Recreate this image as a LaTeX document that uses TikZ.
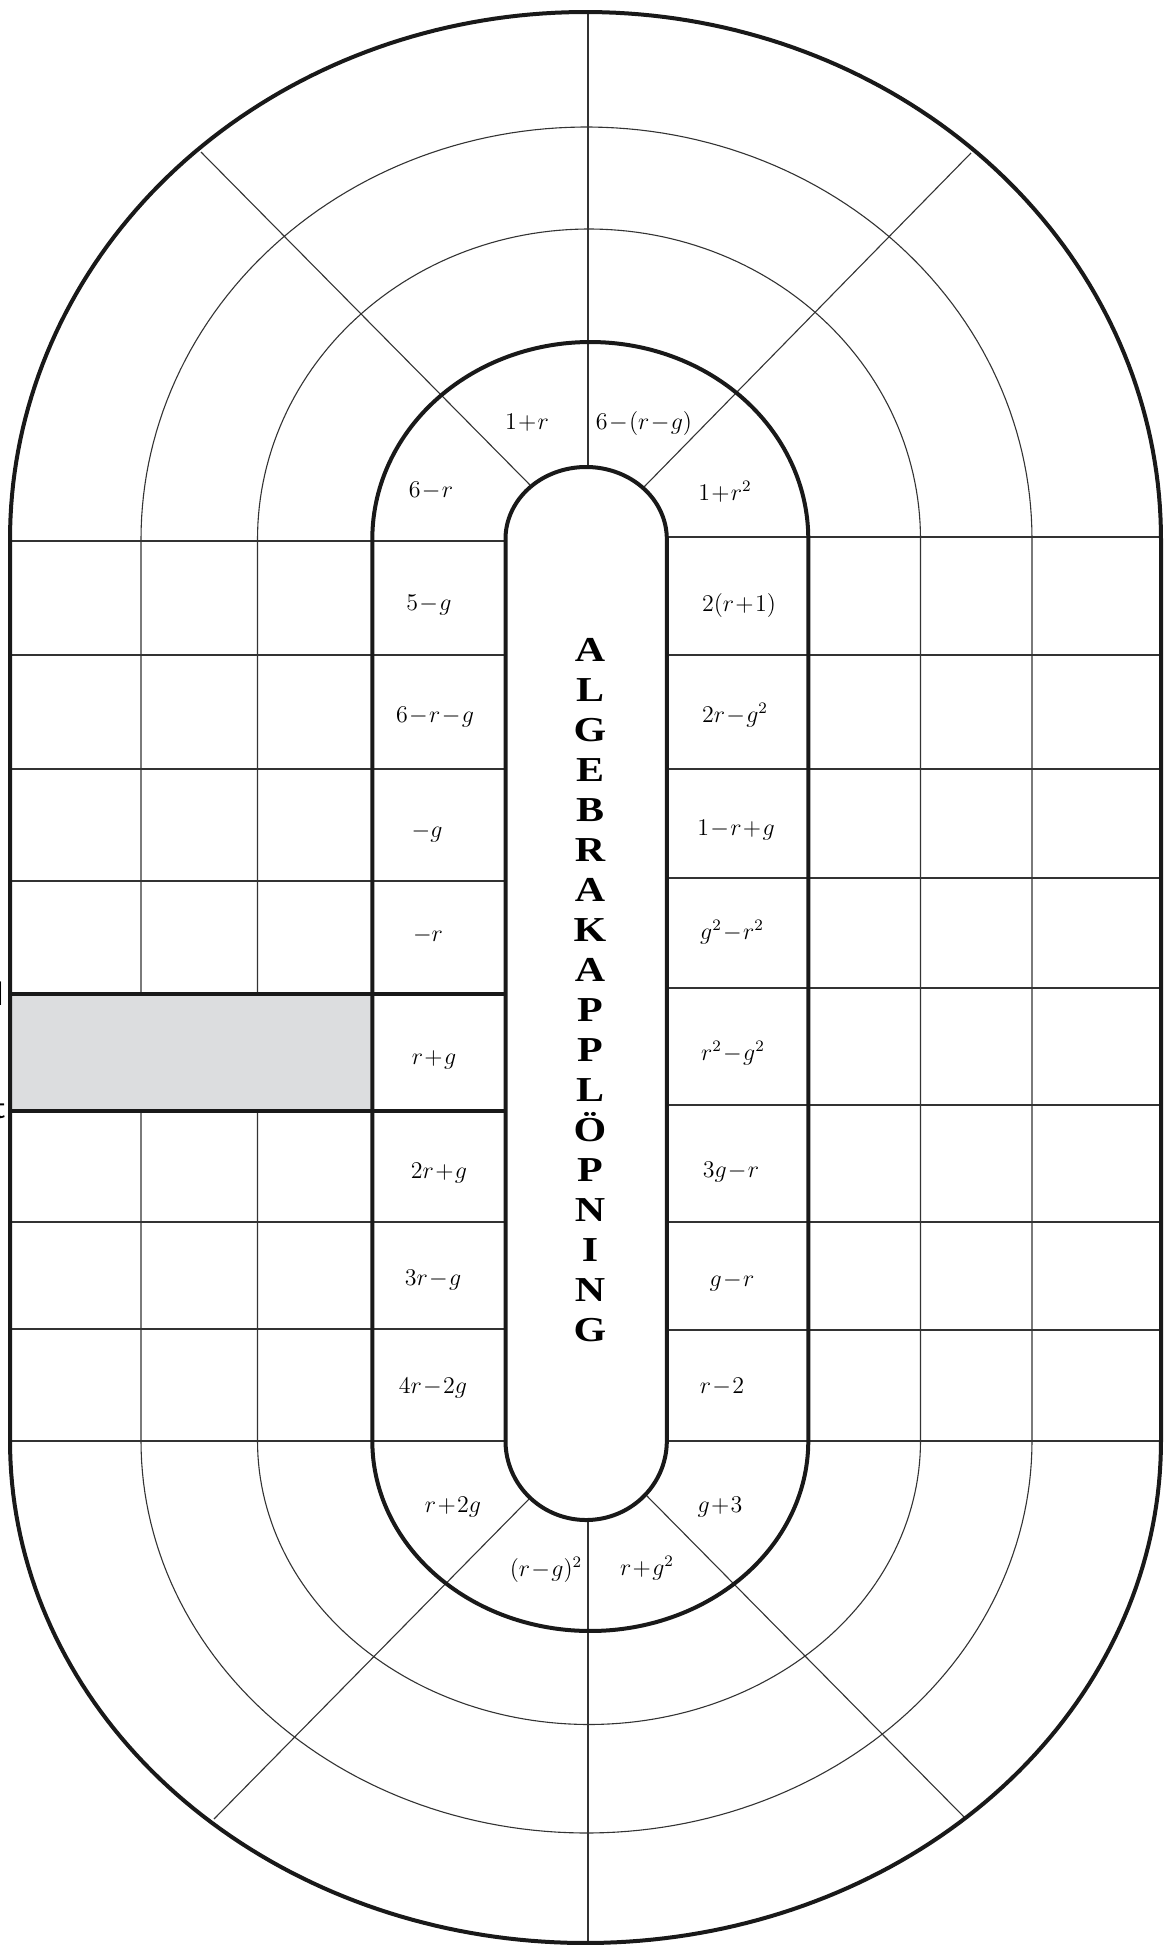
\documentclass[tikz,border=0pt]{standalone}
\usepackage{fontspec}
\newfontfamily\titlefont{Liberation Serif}
\newcommand\mexpr[1]{$\medmuskip=1mu\relax #1$}
\begin{document}
\begin{tikzpicture}[x=0.5pt,y=-0.5pt,
  thickline/.style={line width=2pt, draw=black!90},
  thinline/.style={line width=0.55pt, draw=black!80},
  lbl/.style={font=\fontsize{12}{14}\selectfont, inner sep=0pt},
  letter/.style={font=\titlefont\bfseries\fontsize{17.5}{20}\selectfont, xscale=1.2, inner sep=0pt, anchor=base},
  side/.style={font=\sffamily\fontsize{17}{20}\selectfont, anchor=base east, inner sep=0pt}]
\useasboundingbox (0,0) rectangle (1164,1953);
\clip (0,0) rectangle (1164,1953);

% ---- thin rings (stadium loops) ----
\draw[thinline] plot[domain=180:360,samples=120] ({586.5+445.5*cos(\x)},{539+412*sin(\x)})
  -- plot[domain=0:180,samples=120] ({586.5+445.5*cos(\x)},{1441+392*sin(\x)}) -- cycle;
\draw[thinline] plot[domain=180:360,samples=120] ({589+331.5*cos(\x)},{539+310*sin(\x)})
  -- plot[domain=0:180,samples=120] ({589+331.5*cos(\x)},{1441+283.5*sin(\x)}) -- cycle;

% ---- thin horizontal lines ----
\foreach \yy in {541,655,769,881,1222,1329,1441}
  \draw[thinline] (10,\yy) -- (505.5,\yy);
\foreach \yy in {537,655,769,878,988,1105,1222,1330,1441}
  \draw[thinline] (666.8,\yy) -- (1161,\yy);

% ---- centre spokes and diagonals ----
\draw[thinline] (588,467) -- (588,12);
\draw[thinline] (588,1520) -- (588,1943);
\draw[thinline] (530,485) -- (201,152);
\draw[thinline] (644,487) -- (971,153);
\draw[thinline] (529,1499) -- (214,1819);
\draw[thinline] (647,1496) -- (966,1819);

% ---- start box ----
\fill[fill={rgb,255:red,220;green,221;blue,223}] (10,993.5) rectangle (372.3,1111);

% ---- thick outlines ----
\draw[thickline] plot[domain=180:360,samples=150] ({585.5+575.5*cos(\x)},{539+527*sin(\x)})
  -- plot[domain=0:180,samples=150] ({585.5+575.5*cos(\x)},{1441+502*sin(\x)}) -- cycle;
\draw[thickline] plot[domain=180:360,samples=120] ({590.3+218*cos(\x)},{539+197*sin(\x)})
  -- plot[domain=0:180,samples=120] ({590.3+218*cos(\x)},{1441+190*sin(\x)}) -- cycle;
\draw[thickline] plot[domain=180:360,samples=100] ({586.15+80.65*cos(\x)},{539+72*sin(\x)})
  -- plot[domain=0:180,samples=100] ({586.15+80.65*cos(\x)},{1441+79*sin(\x)}) -- cycle;
\draw[thickline] (10,993.5) -- (505.5,993.5);
\draw[thickline] (10,1111) -- (505.5,1111);

% ---- labels, left column ----
\node[lbl] (a1) at (429,605) {\mexpr{5-g}};
\node[lbl] (a2) at (435,717) {\mexpr{6-r-g}};
\node[lbl] (a3) at (427,833) {\mexpr{-g}};
\node[lbl] (a4) at (428,935) {\mexpr{-r}};
\node[lbl] (a5) at (434,1060) {\mexpr{r+g}};
\node[lbl] (a6) at (439,1173) {\mexpr{2r+g}};
\node[lbl] (a7) at (433,1280) {\mexpr{3r-g}};
\node[lbl] (a8) at (433,1388) {\mexpr{4r-2g}};
% ---- labels, right column ----
\node[lbl] (b1) at (739,605) {\mexpr{2(r+1)}};
\node[lbl] (b2) at (735,715) {\mexpr{2r-g^2}};
\node[lbl] (b3) at (736,830) {\mexpr{1-r+g}};
\node[lbl] (b4) at (732,932) {\mexpr{g^2-r^2}};
\node[lbl] (b5) at (733,1053) {\mexpr{r^2-g^2}};
\node[lbl] (b6) at (731,1172) {\mexpr{3g-r}};
\node[lbl] (b7) at (732,1282) {\mexpr{g-r}};
\node[lbl] (b8) at (722,1387) {\mexpr{r-2}};
% ---- labels, top bend ----
\node[lbl] (c1) at (431,491) {\mexpr{6-r}};
\node[lbl] (c2) at (527,423) {\mexpr{1+r}};
\node[lbl] (c3) at (644,423) {\mexpr{6-(r-g)}};
\node[lbl] (c4) at (725,492) {\mexpr{1+r^2}};
% ---- labels, bottom bend ----
\node[lbl] (d1) at (453,1507) {\mexpr{r+2g}};
\node[lbl] (d2) at (546,1570) {\mexpr{(r-g)^2}};
\node[lbl] (d3) at (647,1568) {\mexpr{r+g^2}};
\node[lbl] (d4) at (720,1507) {\mexpr{g+3}};

% ---- vertical title ----
\foreach \ch [count=\i from 0] in {A,L,G,E,B,R,A,K,A,P,P,L,Ö,P,N,I,N,G}
  \node[letter] (t\i) at (590,{661.5+40*\i}) {\ch};

% ---- clipped side texts ----
\node[side] (mal) at (4,1005) {Mål};
\node[side] (start) at (6,1118) {Start};
\end{tikzpicture}
\end{document}
